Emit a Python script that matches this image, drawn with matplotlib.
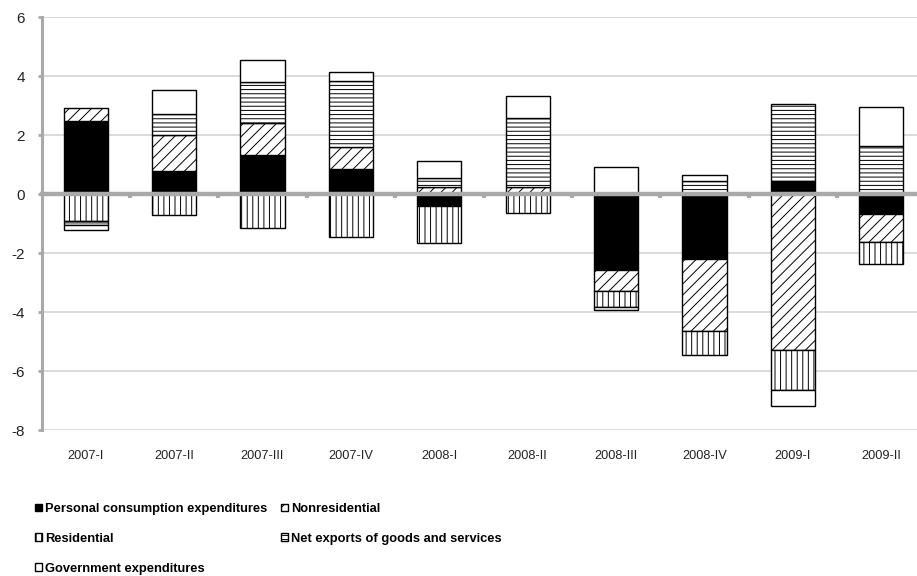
import numpy as np
import matplotlib
matplotlib.use("Agg")
import matplotlib.pyplot as plt
from matplotlib import font_manager as fm

# Contributions to real GDP growth, percentage points
quarters = ["2007-I", "2007-II", "2007-III", "2007-IV", "2008-I",
            "2008-II", "2008-III", "2008-IV", "2009-I", "2009-II"]
pce = [2.48, 0.77, 1.32, 0.85, -0.40, 0.00, -2.56, -2.20, 0.43, -0.66]
nonresidential = [0.46, 1.25, 1.11, 0.75, 0.23, 0.23, -0.71, -2.45, -5.29, -0.97]
residential = [-0.90, -0.69, -1.16, -1.46, -1.25, -0.63, -0.55, -0.81, -1.37, -0.73]
net_exports = [-0.14, 0.70, 1.38, 2.25, 0.32, 2.35, -0.12, 0.43, 2.64, 1.62]
government = [-0.17, 0.82, 0.73, 0.30, 0.56, 0.74, 0.92, 0.22, -0.54, 1.34]

series_labels = ["Personal consumption expenditures", "Nonresidential",
                 "Residential", "Net exports of goods and services",
                 "Government expenditures"]
y_ticks = [-8, -6, -4, -2, 0, 2, 4, 6]

FONT = "Liberation Sans"
plt.rcParams["hatch.linewidth"] = 0.7

W, H = 917, 576
fig = plt.figure(figsize=(W / 100, H / 100), dpi=100)
ax = fig.add_axes([41.5 / W, 146 / H, 884 / W, 412.7 / H])

x = np.arange(len(quarters))
styles = [
    dict(color="black", edgecolor="black"),
    dict(color="white", edgecolor="black", hatch="///"),
    dict(color="white", edgecolor="black", hatch="|||"),
    dict(color="white", edgecolor="black", hatch="----"),
    dict(color="white", edgecolor="black"),
]
data = [pce, nonresidential, residential, net_exports, government]

# positive and negative parts stack away from zero separately
pos_base = np.zeros(len(x))
neg_base = np.zeros(len(x))
handles = []
for vals, st, lab in zip(data, styles, series_labels):
    v = np.asarray(vals, dtype=float)
    bottom = np.where(v >= 0, pos_base, neg_base)
    bars = ax.bar(x, v, width=0.5, bottom=bottom, linewidth=1.0,
                  label=lab, zorder=2, **st)
    handles.append(bars)
    pos_base = pos_base + np.where(v >= 0, v, 0)
    neg_base = neg_base + np.where(v < 0, v, 0)

axis_gray = "#A9A9A9"
ax.set_xlim(-0.5, 9.5)
ax.set_ylim(-8, 6)
ax.set_yticks(y_ticks)
ax.set_yticklabels([str(t) for t in y_ticks])
ax.yaxis.grid(True, color="#D4D4D4", linewidth=1.2)
ax.set_axisbelow(True)

for s in ("top", "right"):
    ax.spines[s].set_visible(False)
ax.spines["left"].set_color(axis_gray)
ax.spines["left"].set_linewidth(2.2)
ax.spines["bottom"].set_position(("data", 0))
ax.spines["bottom"].set_color(axis_gray)
ax.spines["bottom"].set_linewidth(3.2)
ax.spines["bottom"].set_zorder(3)

ax.tick_params(axis="y", length=3, width=2, color=axis_gray, pad=9,
               labelcolor="#222222")
for lbl in ax.get_yticklabels():
    lbl.set_fontproperties(fm.FontProperties(family=FONT, size=11))

ax.set_xticks(x)
ax.set_xticklabels(quarters)
ax.set_xticks(np.arange(0.5, 9.5, 1.0), minor=True)
ax.tick_params(axis="x", which="major", length=0, pad=184,
               labelcolor="#222222")
ax.tick_params(axis="x", which="minor", length=3, width=3, color=axis_gray,
               direction="out")
for lbl in ax.get_xticklabels():
    lbl.set_fontproperties(fm.FontProperties(family=FONT, size=9.2))

# two legend columns, placed independently
legend_kw = dict(loc="upper left", bbox_transform=fig.transFigure,
                 frameon=False, borderpad=0, borderaxespad=0,
                 handlelength=0.55, handleheight=0.55, handletextpad=0.25,
                 labelspacing=1.38,
                 prop=fm.FontProperties(family=FONT, size=9.3, weight="bold"))
left_col = [0, 2, 4]
right_col = [1, 3]
leg1 = ax.legend([handles[i] for i in left_col],
                 [series_labels[i] for i in left_col],
                 bbox_to_anchor=(35 / W, 1 - 503 / H), **legend_kw)
ax.add_artist(leg1)
ax.legend([handles[i] for i in right_col],
          [series_labels[i] for i in right_col],
          bbox_to_anchor=(281 / W, 1 - 503 / H), **legend_kw)

fig.savefig("out.png", dpi=100)
